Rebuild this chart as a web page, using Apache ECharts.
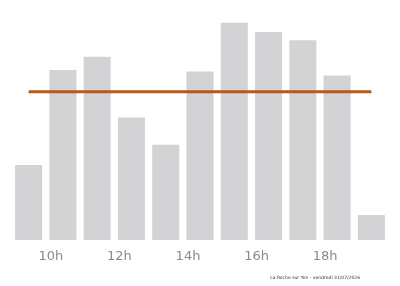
<!DOCTYPE html>
<html><head><meta charset="utf-8">
<script src="https://cdn.jsdelivr.net/npm/echarts@6/dist/echarts.min.js"></script>
<style>html,body{margin:0;padding:0;background:#fff}#c{width:400px;height:286px}</style>
</head><body><div id="c"></div>
<script>
var hours = ['9h','10h','11h','12h','13h','14h','15h','16h','17h','18h','19h'];
var barValues = [31.3, 70.8, 76.4, 51.0, 39.7, 70.2, 90.5, 86.7, 83.2, 68.5, 10.4];
var averageValue = 61.8;
var footerText = 'La Roche sur Yon - vendredi 31/07/2026';

var chart = echarts.init(document.getElementById('c'), null, {renderer: 'canvas'});
chart.setOption({
  animation: false,
  grid: {left: 11.5, right: 11.5, top: 0, height: 240, containLabel: false},
  xAxis: {
    type: 'category', data: hours,
    axisLine: {show: false}, axisTick: {show: false},
    axisLabel: {
      color: '#8a8a8a', fontSize: 13, fontFamily: 'DejaVu Sans', margin: 10,
      padding: [0, 24, 0, 0],
      interval: function (i) { return i % 2 === 1; }
    }
  },
  yAxis: {type: 'value', min: 0, max: 100, show: false},
  graphic: [{
    type: 'text', right: 40, top: 275.5,
    style: {text: footerText, fontSize: 4.5, fill: '#333', fontFamily: 'DejaVu Sans'}
  }],
  series: [{
    type: 'bar', data: barValues, barCategoryGap: '21%',
    itemStyle: {color: '#d3d3d5'}
  }, {
    type: 'line', data: hours.map(function () { return averageValue; }),
    symbol: 'none', lineStyle: {color: '#bf5516', width: 3}, z: 5
  }]
});
</script></body></html>
